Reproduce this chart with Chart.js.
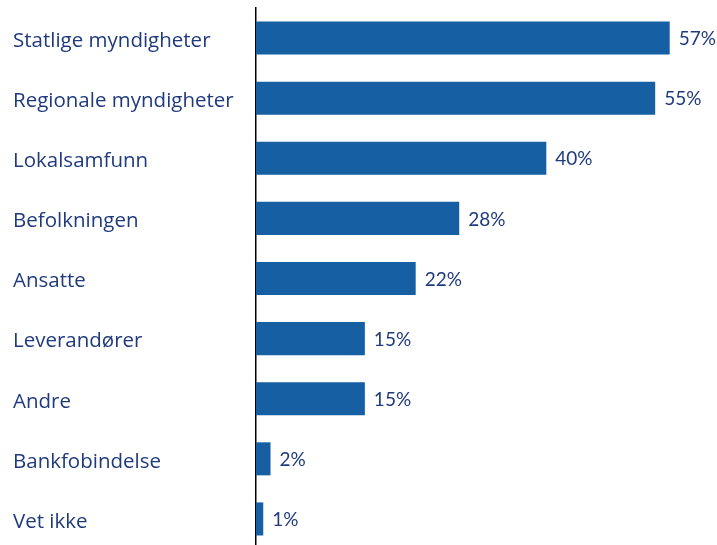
<!DOCTYPE html>
<html>
<head>
<meta charset="utf-8">
<script src="https://cdn.jsdelivr.net/npm/chart.js@4"></script>
<style>
  html, body { margin: 0; padding: 0; background: #fff; overflow: hidden; }
  #wrap { position: relative; width: 717px; height: 549px; }
</style>
</head>
<body>
<div id="wrap"><canvas id="chart"></canvas></div>
<script>
const categories = [
    'Statlige myndigheter', 'Regionale myndigheter', 'Lokalsamfunn', 'Befolkningen',
    'Ansatte', 'Leverandører', 'Andre', 'Bankfobindelse', 'Vet ikke'
];
const values = [57, 55, 40, 28, 22, 15, 15, 2, 1];

const barColor = '#165fa3';
const textColor = '#1f3a7d';
const labelFont = "'Open Sans', Lato, sans-serif";
const valueFont = "Lato, 'Open Sans', sans-serif";

const valueLabels = {
    id: 'valueLabels',
    afterDatasetsDraw(chart) {
        const ctx = chart.ctx;
        const meta = chart.getDatasetMeta(0);
        ctx.save();
        ctx.fillStyle = textColor;
        ctx.font = '19px ' + valueFont;
        ctx.textAlign = 'left';
        ctx.textBaseline = 'middle';
        meta.data.forEach((bar, i) => {
            ctx.fillText(values[i] + '%', bar.x + 9, bar.y + 1);
        });
        ctx.restore();
    }
};

new Chart(document.getElementById('chart'), {
    type: 'bar',
    data: {
        labels: categories,
        datasets: [{
            data: values,
            backgroundColor: barColor,
            categoryPercentage: 1,
            barPercentage: 0.55
        }]
    },
    options: {
        indexAxis: 'y',
        responsive: true,
        maintainAspectRatio: false,
        animation: false,
        layout: { padding: { left: 13, top: 8, right: 11, bottom: 0 } },
        plugins: {
            legend: { display: false },
            tooltip: { enabled: false }
        },
        scales: {
            x: {
                display: false,
                min: 0,
                max: 62
            },
            y: {
                grid: { display: false },
                border: { display: true, color: '#000', width: 1.5 },
                ticks: {
                    crossAlign: 'far',
                    color: textColor,
                    font: { size: 20.5, family: labelFont },
                    padding: 0,
                    labelOffset: 3
                },
                afterFit(scale) {
                    scale.width = 243;
                    scale.paddingTop = 0;
                    scale.paddingBottom = 0;
                }
            }
        }
    },
    plugins: [valueLabels]
});
</script>
</body>
</html>
